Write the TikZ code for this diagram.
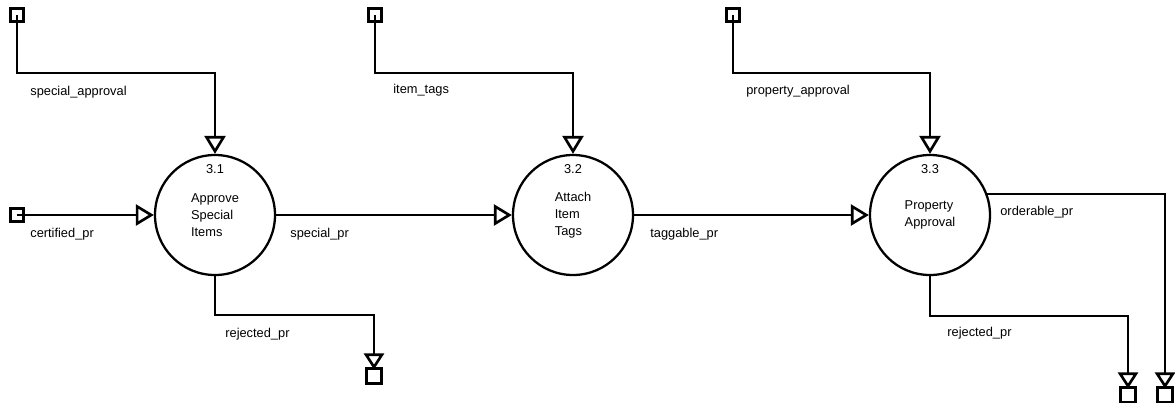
\documentclass[tikz,border=0pt]{standalone}
\usepackage{fontspec}
\setmainfont{Liberation Sans}
\usetikzlibrary{arrows.meta,calc}

\begin{document}
\begin{tikzpicture}[font=\fontsize{7.3}{9.7}\selectfont]
  \def\r{1.2}        % process radius
  \def\yp{-4.3}      % y of process row
  \def\ybend{-1.46}  % y of top flows

  \tikzstyle{proc}=[circle,draw,line width=1.3pt,minimum size=2*\r cm,inner sep=0pt,align=left]
  \tikzstyle{num}=[anchor=center,yshift=-0.3cm,inner sep=0pt]
  \tikzstyle{term}=[rectangle,draw,line width=1.2pt,minimum size=0.26cm,inner sep=0pt]
  \tikzstyle{sink}=[rectangle,draw,line width=1.2pt,minimum size=0.3cm,inner sep=0pt]
  \tikzstyle{flow}=[line width=1.5pt,-{Triangle[open,length=0.36cm,width=0.42cm]}]
  \tikzstyle{outflow}=[line width=1.5pt,-{Triangle[open,length=0.32cm,width=0.4cm]}]
  \tikzstyle{lbl}=[anchor=west,inner sep=0pt]

  \useasboundingbox (0,0) rectangle (23.5,-8.04);

  % PROCESSES
  \node[proc,label={[num]north:3.1}] (c31) at (4.3,\yp) {Approve\\Special\\Items};
  \node[proc,label={[num]north:3.2}] (c32) at (11.46,\yp) {Attach\\Item\\Tags};
  \node[proc,label={[num]north:3.3}] (c33) at (18.6,\yp) {Property\\Approval};

  % SOURCES
  \node[term] (sa) at (0.34,-0.3) {};
  \node[term] (it) at (7.5,-0.3) {};
  \node[term] (pa) at (14.66,-0.3) {};
  \node[term] (cp) at (0.34,\yp) {};

  % SINKS
  \node[sink] (rj1) at (7.48,-7.52) {};
  \node[sink] (rj3) at (22.56,-7.9) {};
  \node[sink] (ord) at (23.3,-7.9) {};
  \coordinate (rj1in) at ($(rj1.north)+(0,-0.04)$);
  \coordinate (rj3in) at ($(rj3.north)+(0,-0.04)$);
  \coordinate (ordin) at ($(ord.north)+(0,-0.04)$);

  % FLOWS
  \draw[flow] (sa.center) -- (sa.center |- 0,\ybend) -| (c31.north);
  \draw[flow] (it.center) -- (it.center |- 0,\ybend) -| (c32.north);
  \draw[flow] (pa.center) -- (pa.center |- 0,\ybend) -| (c33.north);
  \draw[flow] (cp.center) -- (c31.west);
  \draw[flow] (c31.east) -- (c32.west);
  \draw[flow] (c32.east) -- (c33.west);
  \draw[outflow] (c31.south) -- ++(0,-0.78) -| (rj1in);
  \draw[outflow] (c33.south) -- ++(0,-0.8) -| (rj3in);
  \draw[outflow] (c33.20) -| (ordin);

  % LABELS
  \node[lbl] (l1) at (0.6,-1.84) {special\_approval};
  \node[lbl] (l2) at (7.86,-1.8) {item\_tags};
  \node[lbl] (l3) at (14.92,-1.82) {property\_approval};
  \node[lbl] (l4) at (0.6,-4.68) {certified\_pr};
  \node[lbl] (l5) at (5.8,-4.68) {special\_pr};
  \node[lbl] (l6) at (13.0,-4.68) {taggable\_pr};
  \node[lbl] (l7) at (4.5,-6.68) {rejected\_pr};
  \node[lbl] (l8) at (20.0,-4.24) {orderable\_pr};
  \node[lbl] (l9) at (18.94,-6.66) {rejected\_pr};
\end{tikzpicture}
\end{document}
